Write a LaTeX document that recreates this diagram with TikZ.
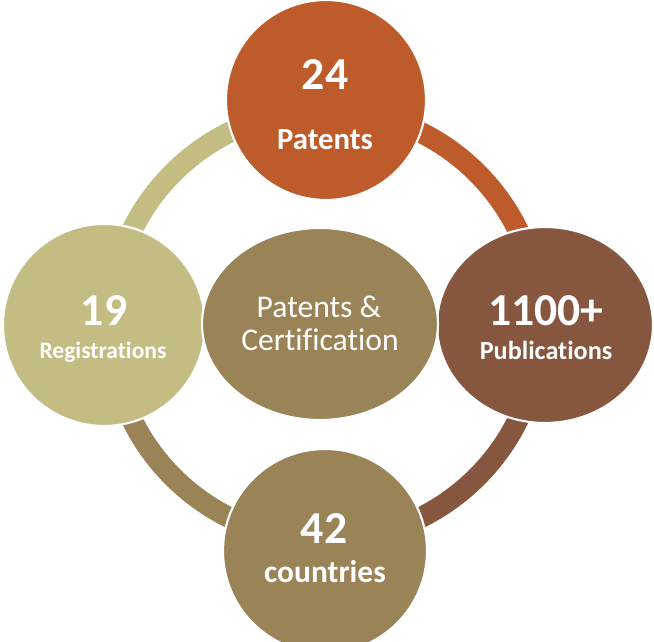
\documentclass[tikz,border=0pt]{standalone}
\usepackage{fontspec}
\setmainfont{Carlito}[Ligatures={NoCommon}]
\usepackage{tikz}
\usetikzlibrary{shapes.geometric,positioning,calc}

\definecolor{rust}{HTML}{BE5B2B}
\definecolor{cocoa}{HTML}{87563F}
\definecolor{tan}{HTML}{9B8358}
\definecolor{khaki}{HTML}{C4BD83}

\tikzset{
  bubble/.style={circle,draw=white,line width=1.2pt,inner sep=0pt},
  oval/.style={ellipse,draw=white,line width=1.2pt,inner sep=0pt},
  ring/.style={line width=0.42cm},
  num/.style={anchor=base,text=white,font=\bfseries\fontsize{26}{28}\selectfont},
  lbl/.style={anchor=base,text=white,font=\bfseries\fontsize{#1}{#1}\selectfont},
  lbl/.default=15
}

\begin{document}
\begin{tikzpicture}[x=0.02cm,y=0.02cm]
      \useasboundingbox (0,0) rectangle (654,642);

      \coordinate (o) at (325,317);
      \coordinate (t) at (326,542);
      \coordinate (l) at (104,317);
      \coordinate (r) at (545,317);
      \coordinate (b) at (325,91);
      \coordinate (m) at (320,318);

      % ring pieces, one per colour
      \draw[ring,khaki] (o) ++(180:215) arc (180:90:215);
      \draw[ring,rust] (o) ++(90:215) arc (90:0:215);
      \draw[ring,cocoa] (o) ++(0:215) arc (0:-90:215);
      \draw[ring,tan] (o) ++(-90:215) arc (-90:-180:215);

      \node[bubble,fill=rust,minimum size=4cm] (tn) at (t) {};
      \node[bubble,fill=khaki,minimum size=4.04cm] (ln) at (l) {};
      \node[oval,fill=cocoa,minimum width=4.32cm,minimum height=3.92cm] (rn) at (r) {};
      \node[bubble,fill=tan,minimum size=4.08cm] (bn) at (b) {};
      \node[oval,fill=tan,minimum width=4.72cm,minimum height=3.84cm] (mn) at (m) {};

      \node[num] (tnum) at (325,552) {24};
      \node[lbl=17.5] (ttxt) at (325,492) {Patents};

      \node[num] (lnum) at (104,316) {19};
      \node[lbl=13.4] (ltxt) at (103,283) {Registrations};

      \node[num] (rnum) at (546,316) {1100+};
      \node[lbl=14.9] (rtxt) at (546,282) {Publications};

      \node[num] (bnum) at (324,98) {42};
      \node[lbl=17.9] (btxt) at (325,59) {countries};

      \node[anchor=base,text=white,font=\fontsize{18}{19}\selectfont] (mtop) at (319,324) {Patents \&};
      \node[anchor=base,text=white,font=\fontsize{18}{19}\selectfont] (mbot) at (320,291) {Certification};
\end{tikzpicture}
\end{document}
